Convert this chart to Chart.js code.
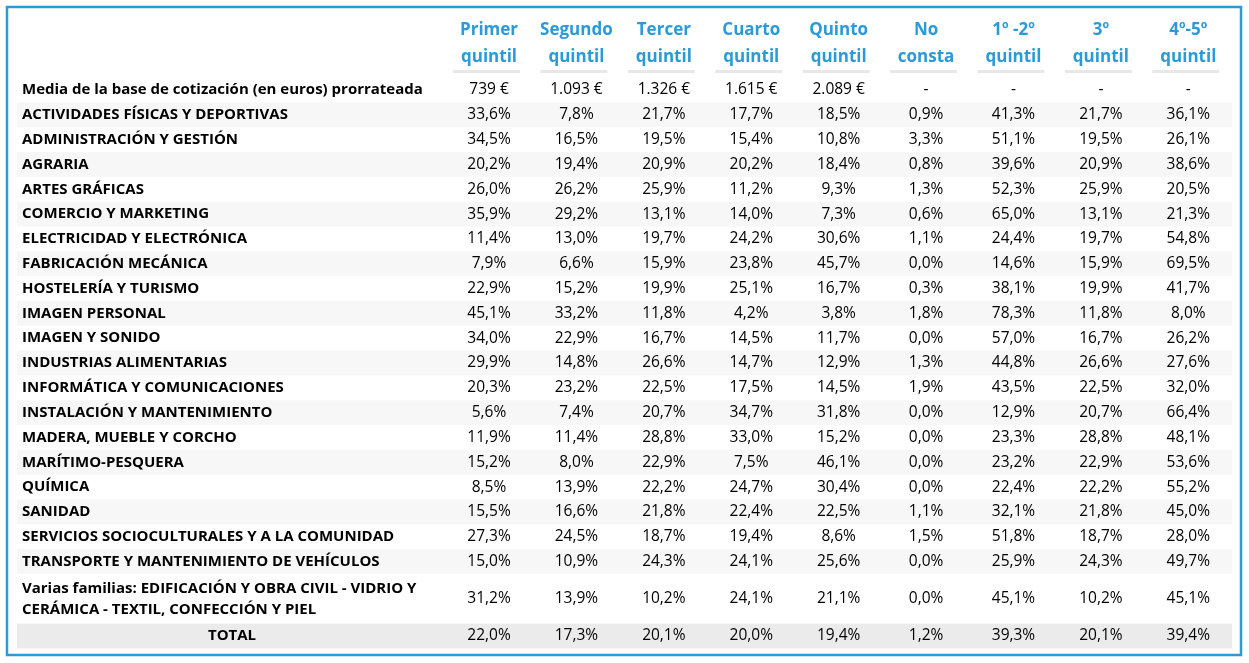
<!DOCTYPE html>
<html>
<head>
<meta charset="utf-8">
<script src="https://cdn.jsdelivr.net/npm/chart.js@4.4.1/dist/chart.umd.min.js"></script>
<style>
html, body { margin: 0; padding: 0; background: #fff; }
#wrap { width: 1249px; height: 663px; position: relative; }
</style>
</head>
<body>
<div id="wrap"><canvas id="c"></canvas></div>
<script>
// cabeceras de columna
var columnas = [
  ['Primer', 'quintil'], ['Segundo', 'quintil'], ['Tercer', 'quintil'],
  ['Cuarto', 'quintil'], ['Quinto', 'quintil'], ['No', 'consta'],
  ['1º -2º', 'quintil'], ['3º', 'quintil'], ['4º-5º', 'quintil']
]
var filaMedia = 'Media de la base de cotización (en euros) prorrateada'
var mediaBase = [739, 1093, 1326, 1615, 2089, null, null, null, null]

var familias = [
  'ACTIVIDADES FÍSICAS Y DEPORTIVAS',
  'ADMINISTRACIÓN Y GESTIÓN',
  'AGRARIA',
  'ARTES GRÁFICAS',
  'COMERCIO Y MARKETING',
  'ELECTRICIDAD Y ELECTRÓNICA',
  'FABRICACIÓN MECÁNICA',
  'HOSTELERÍA Y TURISMO',
  'IMAGEN PERSONAL',
  'IMAGEN Y SONIDO',
  'INDUSTRIAS ALIMENTARIAS',
  'INFORMÁTICA Y COMUNICACIONES',
  'INSTALACIÓN Y MANTENIMIENTO',
  'MADERA, MUEBLE Y CORCHO',
  'MARÍTIMO-PESQUERA',
  'QUÍMICA',
  'SANIDAD',
  'SERVICIOS SOCIOCULTURALES Y A LA COMUNIDAD',
  'TRANSPORTE Y MANTENIMIENTO DE VEHÍCULOS',
  ['Varias familias: EDIFICACIÓN Y OBRA CIVIL - VIDRIO Y', 'CERÁMICA - TEXTIL, CONFECCIÓN Y PIEL']
]

var primer  = [33.6, 34.5, 20.2, 26.0, 35.9, 11.4, 7.9, 22.9, 45.1, 34.0, 29.9, 20.3, 5.6, 11.9, 15.2, 8.5, 15.5, 27.3, 15.0, 31.2]
var segundo = [7.8, 16.5, 19.4, 26.2, 29.2, 13.0, 6.6, 15.2, 33.2, 22.9, 14.8, 23.2, 7.4, 11.4, 8.0, 13.9, 16.6, 24.5, 10.9, 13.9]
var tercer  = [21.7, 19.5, 20.9, 25.9, 13.1, 19.7, 15.9, 19.9, 11.8, 16.7, 26.6, 22.5, 20.7, 28.8, 22.9, 22.2, 21.8, 18.7, 24.3, 10.2]
var cuarto  = [17.7, 15.4, 20.2, 11.2, 14.0, 24.2, 23.8, 25.1, 4.2, 14.5, 14.7, 17.5, 34.7, 33.0, 7.5, 24.7, 22.4, 19.4, 24.1, 24.1]
var quinto  = [18.5, 10.8, 18.4, 9.3, 7.3, 30.6, 45.7, 16.7, 3.8, 11.7, 12.9, 14.5, 31.8, 15.2, 46.1, 30.4, 22.5, 8.6, 25.6, 21.1]
var noConsta = [0.9, 3.3, 0.8, 1.3, 0.6, 1.1, 0.0, 0.3, 1.8, 0.0, 1.3, 1.9, 0.0, 0.0, 0.0, 0.0, 1.1, 1.5, 0.0, 0.0]
var q12 = [41.3, 51.1, 39.6, 52.3, 65.0, 24.4, 14.6, 38.1, 78.3, 57.0, 44.8, 43.5, 12.9, 23.3, 23.2, 22.4, 32.1, 51.8, 25.9, 45.1]
var q3  = [21.7, 19.5, 20.9, 25.9, 13.1, 19.7, 15.9, 19.9, 11.8, 16.7, 26.6, 22.5, 20.7, 28.8, 22.9, 22.2, 21.8, 18.7, 24.3, 10.2]
var q45 = [36.1, 26.1, 38.6, 20.5, 21.3, 54.8, 69.5, 41.7, 8.0, 26.2, 27.6, 32.0, 66.4, 48.1, 53.6, 55.2, 45.0, 28.0, 49.7, 45.1]
var totales = [22.0, 17.3, 20.1, 20.0, 19.4, 1.2, 39.3, 20.1, 39.4]

var series = [primer, segundo, tercer, cuarto, quinto, noConsta, q12, q3, q45]

function euros(v) {
  if (v == null) return '-'
  return String(v).replace(/\B(?=(\d{3})+(?!\d))/g, '.') + ' €'
}
function pct(v) { return v.toFixed(1).replace('.', ',') + '%' }

// filas de la tabla: media, familias y total; la posicion sale del numero de lineas
var filas = []
filas.push({ label: filaMedia, cells: mediaBase.map(euros), tipo: 'media' })
familias.forEach(function (f, i) {
  filas.push({ label: f, cells: series.map(function (s) { return pct(s[i]) }), tipo: 'fam', par: i % 2 == 0 })
})
filas.push({ label: 'TOTAL', cells: totales.map(pct), tipo: 'total' })
var pos = 0
filas.forEach(function (f) {
  var n = Array.isArray(f.label) ? f.label.length : 1
  f.slot = pos + (n - 1) / 2
  f.lo = pos - 0.5
  f.hi = pos + n - 0.5
  pos += n
})
var ultimo = pos - 1

var AZUL = '#2b9ad8'
var FONT = '"Open Sans", sans-serif'

var tablaPlugin = {
  id: 'tabla',
  beforeDatasetsDraw: function (chart) {
    var ctx = chart.ctx, a = chart.chartArea, y = chart.scales.y
    ctx.save()
    filas.forEach(function (f) {
      var col = null
      if (f.tipo == 'fam' && f.par) col = '#f7f7f7'
      if (f.tipo == 'total') col = '#ebebeb'
      if (!col) return
      var t = y.getPixelForValue(f.lo), b = y.getPixelForValue(f.hi)
      ctx.fillStyle = col
      ctx.fillRect(a.left, t, a.right - a.left, b - t)
    })
    ctx.restore()
  },
  afterDatasetsDraw: function (chart) {
    var ctx = chart.ctx, a = chart.chartArea, x = chart.scales.x, y = chart.scales.y
    ctx.save()
    // cabeceras
    ctx.textAlign = 'center'
    ctx.textBaseline = 'middle'
    ctx.font = 'bold 17px ' + FONT
    columnas.forEach(function (c, j) {
      var px = x.getPixelForValue(j + 1)
      ctx.fillStyle = AZUL
      ctx.fillText(c[0], px, 30)
      ctx.fillText(c[1], px, 57)
      ctx.fillStyle = '#e8e8e8'
      ctx.fillRect(px - 36, 70, 67, 3)
    })
    // etiquetas de fila
    ctx.fillStyle = '#000'
    ctx.font = 'bold 15px ' + FONT
    filas.forEach(function (f) {
      if (f.tipo == 'total') {
        ctx.textAlign = 'center'
        ctx.fillText(f.label, x.getPixelForValue(-1.94), y.getPixelForValue(f.slot))
        return
      }
      ctx.textAlign = 'left'
      var lines = Array.isArray(f.label) ? f.label : [f.label]
      lines.forEach(function (l, k) {
        ctx.fillText(l, a.left + 5, y.getPixelForValue(f.lo + 0.5 + k) - (lines.length > 1 ? (k == 0 ? -2 : 1) : 0))
      })
    })
    // celdas
    ctx.font = '15.5px ' + FONT
    ctx.textAlign = 'center'
    chart.data.datasets.forEach(function (ds, j) {
      var meta = chart.getDatasetMeta(j)
      meta.data.forEach(function (pt, i) {
        ctx.fillText(filas[i].cells[j], pt.x, pt.y)
      })
    })
    // marco
    ctx.strokeStyle = AZUL
    ctx.lineWidth = 2.5
    ctx.strokeRect(7, 7, chart.width - 15, chart.height - 15)
    ctx.restore()
  }
}

var datasets = columnas.map(function (c, j) {
  return {
    label: c.join(' '),
    data: filas.map(function (f) { return { x: j + 1, y: f.slot } }),
    pointRadius: 0,
    showLine: false
  }
})

new Chart(document.getElementById('c'), {
  type: 'scatter',
  data: { datasets: datasets },
  options: {
    responsive: true,
    maintainAspectRatio: false,
    animation: false,
    layout: { padding: { left: 17, right: 17, top: 77.6, bottom: 14.6 } },
    plugins: { legend: { display: false }, tooltip: { enabled: false } },
    scales: {
      x: { type: 'linear', display: false, min: -4.4, max: 9.5 },
      y: { type: 'linear', display: false, reverse: true, min: -0.5, max: ultimo + 0.5 }
    }
  },
  plugins: [tablaPlugin]
})
</script>
</body>
</html>
